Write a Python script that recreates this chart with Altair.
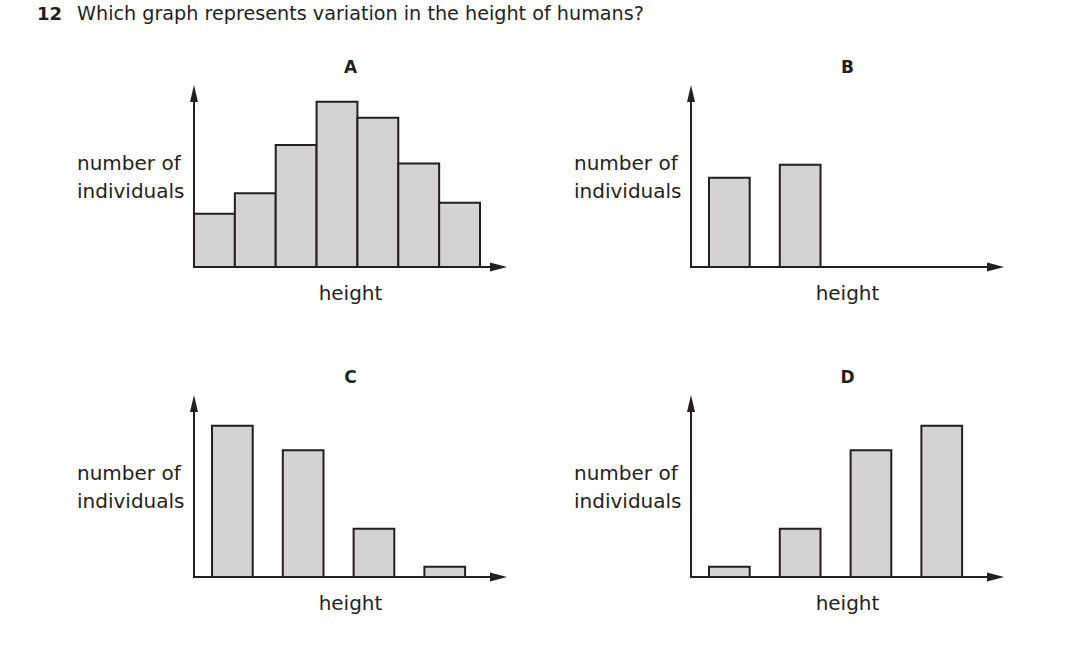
import altair as alt
import pandas as pd

# Bar heights, as a percentage of the full height of the vertical axis
heights_a = [29.3, 40.5, 67.0, 90.8, 82.0, 56.8, 35.3]
heights_b = [49.1, 56.2]
heights_c = [83.1, 69.6, 26.5, 5.7]
heights_d = [5.7, 26.5, 69.6, 83.1]

question_number = "12"
question_text = "Which graph represents variation in the height of humans?"
y_label_lines = ["number of", "individuals"]
x_label = "height"

INK = "#231f20"
GREY = "#d3d3d3"
FONT = "DejaVu Sans"

W, H = 313, 182          # plot area of each small graph (axis origin to arrow tips)
ARROW = 17               # arrow-head length in px

one = pd.DataFrame({"k": [0]})


def text(label, x, y, size=20, bold=False, align="left"):
    return alt.Chart(one).mark_text(
        text=label, font=FONT, fontSize=size, fontWeight="bold" if bold else "normal",
        color=INK, align=align, baseline="alphabetic",
    ).encode(x=alt.value(x), y=alt.value(y))


def panel(letter, counts, n_slots, band_range, pad_inner, extra=()):
    df = pd.DataFrame({"cls": list(range(1, len(counts) + 1)), "n": counts})
    bars = alt.Chart(df).mark_bar(
        fill=GREY, stroke=INK, strokeWidth=2, strokeJoin="miter"
    ).encode(
        x=alt.X("cls:O", axis=None,
                scale=alt.Scale(domain=list(range(1, n_slots + 1)), range=band_range,
                                paddingInner=pad_inner, paddingOuter=0)),
        y=alt.Y("n:Q", axis=None, scale=alt.Scale(domain=[0, 100])),
    )
    # axes drawn as plain lines with filled arrow heads
    y_axis = alt.Chart(one).mark_rule(color=INK, strokeWidth=2).encode(
        x=alt.value(0), y=alt.value(6), y2=alt.value(H + 1))
    x_axis = alt.Chart(one).mark_rule(color=INK, strokeWidth=2).encode(
        x=alt.value(-1), x2=alt.value(W - 6), y=alt.value(H))
    up = alt.Chart(one).mark_point(
        shape="M0,-1L0.47,1L-0.47,1Z", size=ARROW * ARROW, filled=True,
        fill=INK, strokeWidth=0, opacity=1,
    ).encode(x=alt.value(0), y=alt.value(ARROW / 2))
    right = alt.Chart(one).mark_point(
        shape="M1,0L-1,-0.52L-1,0.52Z", size=ARROW * ARROW, filled=True,
        fill=INK, strokeWidth=0, opacity=1,
    ).encode(x=alt.value(W - ARROW / 2), y=alt.value(H))
    labels = [
        text(letter, W / 2, -12.3, size=17, bold=True, align="center"),
        text(y_label_lines[0], -117, H - 97.5),
        text(y_label_lines[1], -117, H - 69.5),
        text(x_label, W / 2, H + 32.5, align="center"),
    ]
    return alt.layer(*extra, bars, y_axis, x_axis, up, right, *labels).properties(
        width=W, height=H)


# white page behind everything; fixes the page frame around the first graph
page = alt.Chart(one).mark_rect(color="white").encode(
    x=alt.value(-194), x2=alt.value(1090 - 194),
    y=alt.value(-85), y2=alt.value(666 - 85),
)
question = [
    page,
    text(question_number, -157, -65.5, size=18, bold=True),
    text(question_text, -117, -65.5, size=19.2),
]

four_range = [18, 18 + 3 * 70.8 + 40.7]
four_pad = 1 - 40.7 / 70.8

pa = panel("A", heights_a, 7, [0, 286], 0, extra=question)
pb = panel("B", heights_b, 4, four_range, four_pad)
pc = panel("C", heights_c, 4, four_range, four_pad)
pd_ = panel("D", heights_d, 4, four_range, four_pad)

chart = alt.concat(
    pa, pb, pc, pd_, columns=2,
    spacing={"row": 128, "column": 184}, bounds="flush",
).properties(padding=0, background="white").configure_view(strokeWidth=0)

chart.save("out.html", embed_options={"renderer": "svg", "actions": False})
